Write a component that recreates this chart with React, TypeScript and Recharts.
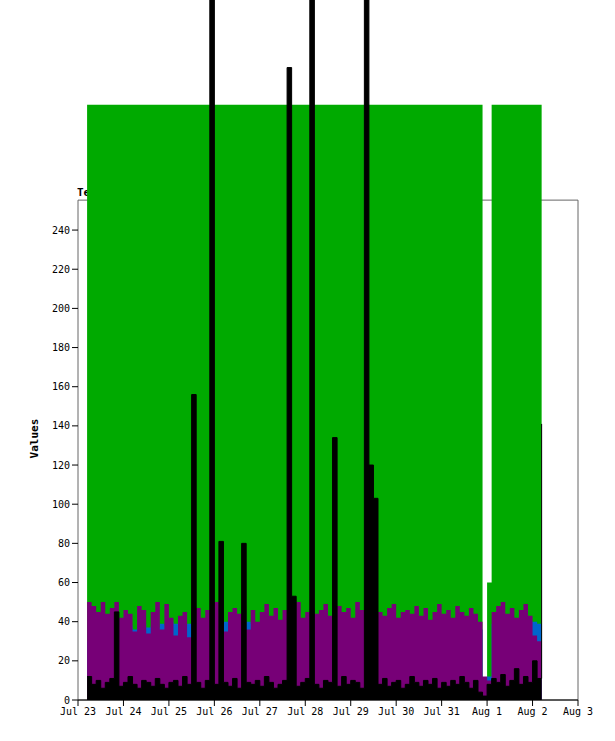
import React from "react";
import { ComposedChart, Area, XAxis, YAxis, ReferenceArea } from "recharts";

// one sample every 0.1 day, starting at Jul 23 + 0.2 day
const START = 0.2;
const STEP = 0.1;

const tickLabels = ["Jul 23", "Jul 24", "Jul 25", "Jul 26", "Jul 27", "Jul 28", "Jul 29", "Jul 30", "Jul 31", "Aug 1", "Aug 2", "Aug 3"];
const yTicks = [0, 20, 40, 60, 80, 100, 120, 140, 160, 180, 200, 220, 240];

const green = [
  304, 304, 304, 304, 304, 304, 304, 304, 304, 304, 304, 304, 304, 304, 304, 304, 304, 304, 304, 304,
  304, 304, 304, 304, 304, 304, 304, 304, 304, 304, 304, 304, 304, 304, 304, 304, 304, 304, 304, 304,
  304, 304, 304, 304, 304, 304, 304, 304, 304, 304, 304, 304, 304, 304, 304, 304, 304, 304, 304, 304,
  304, 304, 304, 304, 304, 304, 304, 304, 304, 304, 304, 304, 304, 304, 304, 304, 304, 304, 304, 304,
  304, 304, 304, 304, 304, 304, 304, 0, 60, 304, 304, 304, 304, 304, 304, 304, 304, 304, 304, 304, 304,
];
const blue = [
  30, 39, 38, 39, 40, 38, 37, 39, 40, 38, 36, 38, 39, 37, 38, 37, 39, 38, 40, 39,
  37, 38, 39, 37, 38, 40, 39, 38, 37, 39, 40, 38, 39, 37, 38, 40, 39, 38, 39, 38,
  37, 39, 40, 38, 39, 37, 38, 40, 39, 38, 37, 39, 38, 40, 39, 38, 37, 39, 40, 38,
  39, 37, 38, 40, 39, 38, 37, 39, 38, 40, 39, 38, 37, 39, 40, 38, 39, 37, 38, 40,
  39, 38, 37, 39, 40, 38, 36, 10, 12, 39, 38, 40, 39, 38, 37, 39, 38, 40, 40, 39, 36,
];
const purple = [
  50, 48, 45, 50, 44, 47, 50, 42, 46, 44, 35, 48, 46, 34, 45, 50, 36, 49, 42, 33,
  43, 45, 32, 48, 47, 42, 46, 44, 50, 43, 35, 45, 47, 44, 48, 36, 46, 40, 45, 49,
  43, 47, 41, 46, 44, 48, 50, 42, 45, 47, 44, 46, 49, 43, 41, 48, 45, 47, 42, 50,
  46, 44, 35, 32, 45, 43, 47, 49, 42, 45, 46, 44, 48, 43, 47, 41, 45, 49, 44, 46,
  42, 48, 45, 43, 47, 44, 40, 12, 10, 45, 48, 50, 44, 47, 42, 46, 49, 43, 33, 30, 35,
];
const black = [
  12, 8, 10, 6, 9, 11, 45, 7, 9, 12, 8, 6, 10, 9, 7, 11, 8, 6, 9, 10,
  7, 12, 8, 156, 9, 6, 10, 400, 8, 81, 9, 7, 11, 6, 80, 9, 8, 10, 7, 12,
  9, 6, 8, 10, 323, 53, 7, 9, 11, 400, 8, 6, 10, 9, 134, 7, 12, 8, 10, 9,
  6, 400, 120, 103, 8, 11, 7, 9, 10, 6, 8, 12, 9, 7, 10, 8, 11, 6, 9, 7,
  10, 8, 12, 9, 6, 10, 4, 2, 8, 11, 9, 13, 7, 10, 16, 8, 12, 9, 20, 11, 141,
];
// short red bursts
const redHigh: (number | null)[] = green.map(() => null);
redHigh[15] = 82;
redHigh[35] = 80;
redHigh[46] = 81;
redHigh[50] = 77;
redHigh[74] = 60;
redHigh[89] = 56;

const data = green.map((g, i) => ({
  t: +(START + i * STEP).toFixed(2),
  green: g,
  blue: blue[i],
  purple: purple[i],
  black: black[i],
  red: redHigh[i] === null ? null : [(redHigh[i] as number) - 6, redHigh[i]],
}));

const font = "'DejaVu Sans Mono', monospace";

export default function App() {
  return (
    <div style={{ position: "absolute", left: 0, top: 0, width: 615, height: 741, background: "#fff" }}>
      <div
        style={{ position: "absolute", left: 77, top: 186, fontFamily: font, fontSize: 11, fontWeight: "bold" }}
      >
        Temperature and Humidity Values for 2019
      </div>
      <div
        style={{
          position: "absolute", left: 10, top: 432, fontFamily: font, fontSize: 11, fontWeight: "bold",
          transform: "rotate(-90deg)", width: 48, textAlign: "center",
        }}
      >
        Values
      </div>
      <div style={{ position: "absolute", left: 0, top: 0 }}>
        <ComposedChart width={615} height={741} data={data} margin={{ top: 0, right: 37, bottom: 0, left: 0 }}>
          <ReferenceArea x1={0} x2={11} y1={0} y2={255.3} fill="none" stroke="#666" strokeWidth={1} />
          <XAxis
            dataKey="t"
            type="number"
            domain={[0, 11]}
            ticks={[0, 1, 2, 3, 4, 5, 6, 7, 8, 9, 10, 11]}
            tickFormatter={(v: number) => tickLabels[v]}
            height={41}
            stroke="#000"
            tick={{ fontSize: 10, fill: "#000", fontFamily: font }}
            tickSize={6}
            interval={0}
          />
          <YAxis
            domain={[0, 357.5]}
            allowDataOverflow
            ticks={yTicks}
            width={78}
            axisLine={false}
            stroke="#000"
            tick={{ fontSize: 10, fill: "#000", fontFamily: font }}
            tickSize={6}
            interval={0}
          />
          <Area type="stepAfter" dataKey="green" stroke="none" fill="#00aa00" fillOpacity={1} isAnimationActive={false} />
          <Area type="stepAfter" dataKey="red" stroke="none" fill="#ff0000" fillOpacity={1} isAnimationActive={false} />
          <Area type="stepAfter" dataKey="blue" stroke="none" fill="#0066cc" fillOpacity={1} isAnimationActive={false} />
          <Area type="stepAfter" dataKey="purple" stroke="none" fill="#770077" fillOpacity={1} isAnimationActive={false} />
          <Area type="stepAfter" dataKey="black" stroke="#000" strokeWidth={1} fill="#000" fillOpacity={1} isAnimationActive={false} />
        </ComposedChart>
      </div>
    </div>
  );
}
